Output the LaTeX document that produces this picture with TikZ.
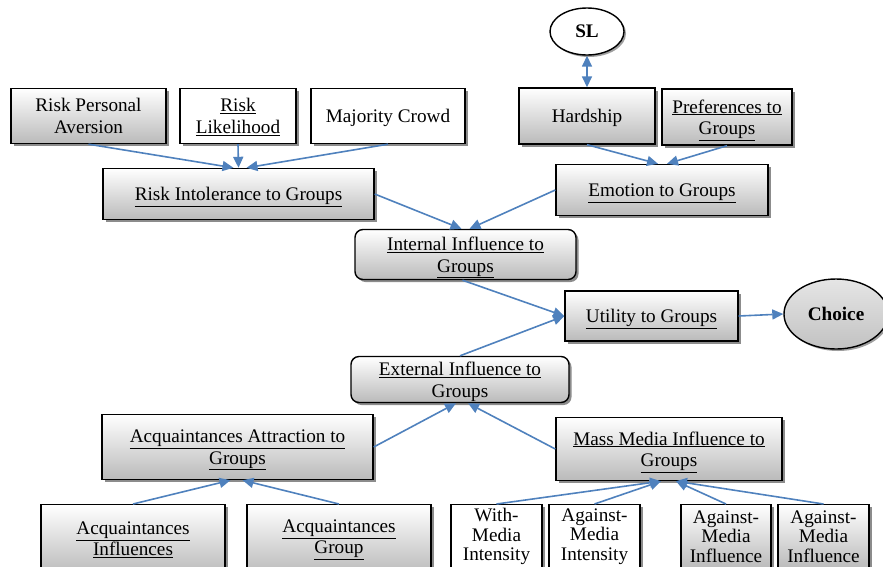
\documentclass[tikz,border=0pt]{standalone}
\usepackage{fontspec}
\setmainfont{Liberation Serif}
\usetikzlibrary{shapes.geometric, arrows.meta, positioning, shadows}
\definecolor{LinkBlue}{RGB}{79,129,189}
\definecolor{BoxGray}{RGB}{186,186,186}

\begin{document}
\begin{tikzpicture}[
          x=1pt, y=-1pt,
          font=\fontsize{19.2}{21.5}\selectfont,
          base/.style={rectangle, draw=black, line width=1.4pt, align=center, inner sep=2pt, drop shadow={shadow xshift=2.5pt, shadow yshift=-2.5pt, fill=black!75, opacity=0.6}},
          box/.style={base, top color=white, bottom color=BoxGray},
          wbox/.style={base, fill=white},
          rbox/.style={box, rounded corners=8pt},
          low/.style={text depth=0pt},
          small/.style={font=\fontsize{19.2}{19.5}\selectfont, inner sep=1pt},
          oval/.style={ellipse, draw=black, line width=1.4pt, font=\fontsize{19.2}{21.5}\selectfont\bfseries, drop shadow={shadow xshift=2pt, shadow yshift=-2pt, fill=black!75, opacity=0.5}},
          arrow/.style={-{Triangle[length=11pt, width=10pt]}, line width=1.6pt, LinkBlue}
        ]
          \clip (0,0) rectangle (883,566);

          % top row
          \node (aversion) [box, low, minimum width=155pt, minimum height=55pt] at (88.5,116) {Risk Personal\\Aversion};
          \node (likelihood) [wbox, low, minimum width=116pt, minimum height=55pt] at (238,116) {\underline{Risk}\\\underline{Likelihood}};
          \node (crowd) [wbox, low, minimum width=154pt, minimum height=55pt] at (388,116) {Majority Crowd};
          \node (sl) [oval, fill=white, minimum width=74pt, minimum height=47pt] at (587,31.5) {SL};
          \node (hardship) [box, low, minimum width=136pt, minimum height=56pt] at (587,116) {Hardship};
          \node (prefs) [box, low, minimum width=130pt, minimum height=56pt] at (727,117) {\underline{Preferences to}\\\underline{Groups}};

          % second row
          \node (intolerance) [box, low, minimum width=271pt, minimum height=51pt] at (238.5,194) {\underline{Risk Intolerance to Groups}};
          \node (emotion) [box, low, minimum width=212pt, minimum height=51pt] at (662,190) {\underline{Emotion to Groups}};

          % middle
          \node (internal) [rbox, low, minimum width=221pt, minimum height=50pt] at (465.5,254.5) {\underline{Internal Influence to}\\\underline{Groups}};
          \node (utility) [box, low, minimum width=173pt, minimum height=50pt] at (651.5,316) {\underline{Utility to Groups}};
          \node (choice) [oval, top color=black!10, bottom color=black!24, minimum width=104pt, minimum height=70pt] at (836,314) {Choice};
          \node (external) [rbox, low, minimum width=218pt, minimum height=46pt] at (460,379.5) {\underline{External Influence to}\\\underline{Groups}};

          % lower row
          \node (attraction) [box, low, minimum width=271pt, minimum height=65pt] at (237.5,447) {\underline{Acquaintances Attraction to}\\\underline{Groups}};
          \node (massmedia) [box, low, minimum width=226pt, minimum height=63pt] at (669,449) {\underline{Mass Media Influence to}\\\underline{Groups}};

          % bottom row
          \node (acqinf) [box, anchor=north, minimum width=184pt, minimum height=70pt] at (133,504) {\underline{Acquaintances}\\\underline{Influences}};
          \node (acqgroup) [box, anchor=north, minimum width=184pt, minimum height=70pt] at (339,504) {\underline{Acquaintances}\\\underline{Group}};
          \node (withint) [wbox, small, anchor=north, minimum width=91pt, minimum height=64pt] at (496.5,504) {With-\\Media\\Intensity};
          \node (againstint) [wbox, small, anchor=north, minimum width=91pt, minimum height=64pt] at (594.5,504) {Against-\\Media\\Intensity};
          \node (againstinf) [box, small, anchor=north, minimum width=90pt, minimum height=64pt] at (726,504) {Against-\\Media\\Influence};
          \node (againstinfb) [box, small, anchor=north, minimum width=91pt, minimum height=64pt] at (823.5,504) {Against-\\Media\\Influence};

          % connectors
          \draw [arrow] (aversion.south) -- ([xshift=-5pt]intolerance.north);
          \draw [arrow] (likelihood.south) -- (intolerance.north);
          \draw [arrow] (crowd.south) -- ([xshift=8pt]intolerance.north);
          \draw [{Triangle[length=11pt, width=10pt]}-{Triangle[length=11pt, width=10pt]}, line width=1.6pt, LinkBlue] (sl.south) -- (hardship.north);
          \draw [arrow] (hardship.south) -- ([xshift=-4pt]emotion.north);
          \draw [arrow] (prefs.south) -- ([xshift=5pt]emotion.north);
          \draw [arrow] (intolerance.east) -- ([xshift=-4pt]internal.north);
          \draw [arrow] (emotion.west) -- ([xshift=4pt]internal.north);
          \draw [arrow] ([xshift=-3pt]internal.south) -- (utility.west);
          \draw [arrow] (external.north) -- (utility.west);
          \draw [arrow] (utility.east) -- (choice.west);
          \draw [arrow] (attraction.east) -- ([xshift=-4pt]external.south);
          \draw [arrow] (massmedia.west) -- ([xshift=8pt]external.south);
          \draw [arrow] (acqinf.north) -- ([xshift=-7pt]attraction.south);
          \draw [arrow] (acqgroup.north) -- ([xshift=5pt]attraction.south);
          \draw [arrow] (withint.north) -- ([xshift=-8pt]massmedia.south);
          \draw [arrow] (againstint.north) -- ([xshift=-8pt]massmedia.south);
          \draw [arrow] (againstinf.north) -- ([xshift=7pt]massmedia.south);
          \draw [arrow] (againstinfb.north) -- ([xshift=7pt]massmedia.south);
        \end{tikzpicture}
\end{document}
